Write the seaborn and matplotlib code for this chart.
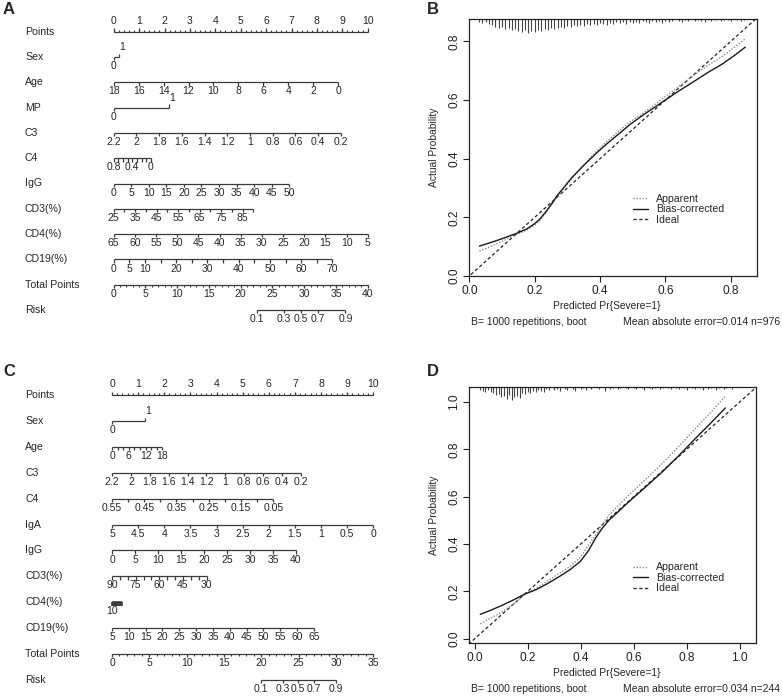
import numpy as np
import pandas as pd
import matplotlib
matplotlib.use("Agg")
import matplotlib.pyplot as plt
from matplotlib.lines import Line2D
from matplotlib.ticker import FormatStrFormatter
import seaborn as sns

sns.set_theme(style="white")
plt.rcParams['font.family'] = ['Liberation Sans', 'DejaVu Sans']

# ======================= DATA =======================
# ---- Nomogram A (points scale 0-10, total points 0-40) ----
A_points_vals = [0, 1, 2, 3, 4, 5, 6, 7, 8, 9, 10]
A_sex_vals = [0, 1];                                   A_sex_pts = [0.0, 0.21]
A_age_vals = [18, 16, 14, 12, 10, 8, 6, 4, 2, 0];      A_age_pts = [0.0, 8.84]
A_mp_vals = [0, 1];                                    A_mp_pts = [0.0, 2.18]
A_c3_vals = [2.2, 2, 1.8, 1.6, 1.4, 1.2, 1, 0.8, 0.6, 0.4, 0.2]; A_c3_pts = [0.0, 8.94]
A_c4_vals = [0.8, 0.7, 0.6, 0.5, 0.4, 0.3, 0.2, 0.1, 0];          A_c4_pts = [0.0, 1.46]
A_c4_labels = [0.8, 0.4, 0]
A_igg_vals = [0, 5, 10, 15, 20, 25, 30, 35, 40, 45, 50];          A_igg_pts = [0.0, 6.91]
A_cd3_vals = [25, 30, 35, 40, 45, 50, 55, 60, 65, 70, 75, 80, 85, 90]; A_cd3_pts = [0.0, 5.5]
A_cd3_labels = [25, 35, 45, 55, 65, 75, 85]
A_cd4_vals = [65, 60, 55, 50, 45, 40, 35, 30, 25, 20, 15, 10, 5];  A_cd4_pts = [0.0, 10.0]
A_cd19_vals = [0, 5, 10, 15, 20, 25, 30, 35, 40, 45, 50, 55, 60, 65, 70]; A_cd19_pts = [0.0, 8.61]
A_cd19_labels = [0, 5, 10, 20, 30, 40, 50, 60, 70]
A_total_vals = [0, 5, 10, 15, 20, 25, 30, 35, 40]
A_risk_vals = [0.1, 0.3, 0.5, 0.7, 0.9]
A_risk_total = [22.5, 26.8, 29.5, 32.2, 36.5]

# ---- Nomogram C (points scale 0-10, total points 0-35) ----
C_points_vals = [0, 1, 2, 3, 4, 5, 6, 7, 8, 9, 10]
C_sex_vals = [0, 1];                                   C_sex_pts = [0.0, 1.25]
C_age_vals = [0, 2, 4, 6, 8, 10, 12, 14, 16, 18];      C_age_pts = [0.0, 1.93]
C_age_labels = [0, 6, 12, 18]
C_c3_vals = [2.2, 2, 1.8, 1.6, 1.4, 1.2, 1, 0.8, 0.6, 0.4, 0.2]; C_c3_pts = [0.0, 7.23]
C_c4_vals = [0.55, 0.5, 0.45, 0.4, 0.35, 0.3, 0.25, 0.2, 0.15, 0.1, 0.05]; C_c4_pts = [0.0, 6.17]
C_c4_labels = [0.55, 0.45, 0.35, 0.25, 0.15, 0.05]
C_iga_vals = [5, 4.5, 4, 3.5, 3, 2.5, 2, 1.5, 1, 0.5, 0];     C_iga_pts = [0.0, 10.0]
C_igg_vals = [0, 5, 10, 15, 20, 25, 30, 35, 40];              C_igg_pts = [0.0, 7.04]
C_cd3_vals = [90, 85, 80, 75, 70, 65, 60, 55, 50, 45, 40, 35, 30]; C_cd3_pts = [0.0, 3.62]
C_cd3_labels = [90, 75, 60, 45, 30]
C_cd4_vals = [10, 15, 20, 25, 30, 35, 40, 45, 50, 55, 60, 65]; C_cd4_pts = [0.0, 0.37]
C_cd4_labels = [10]
C_cd19_vals = [5, 10, 15, 20, 25, 30, 35, 40, 45, 50, 55, 60, 65]; C_cd19_pts = [0.0, 7.73]
C_total_vals = [0, 5, 10, 15, 20, 25, 30, 35]
C_risk_vals = [0.1, 0.3, 0.5, 0.7, 0.9]
C_risk_total = [19.9, 22.9, 24.95, 27.0, 30.0]

# ---- Calibration B ----
B_pred = [0.031, 0.06, 0.10, 0.146, 0.175, 0.197, 0.215, 0.232, 0.25, 0.268, 0.29, 0.314, 0.35,
          0.385, 0.42, 0.457, 0.49, 0.528, 0.56, 0.589, 0.64, 0.691, 0.73, 0.773, 0.81, 0.844]
B_apparent = [0.085, 0.098, 0.118, 0.143, 0.156, 0.171, 0.188, 0.212, 0.240, 0.267, 0.300, 0.333, 0.378,
              0.421, 0.458, 0.493, 0.524, 0.552, 0.578, 0.603, 0.645, 0.688, 0.718, 0.748, 0.779, 0.808]
B_biascorr = [0.102, 0.112, 0.127, 0.146, 0.160, 0.176, 0.193, 0.216, 0.243, 0.273, 0.303, 0.336, 0.377,
              0.415, 0.450, 0.484, 0.515, 0.546, 0.570, 0.592, 0.630, 0.666, 0.694, 0.722, 0.751, 0.780]
B_spike_x = [0.03, 0.04, 0.05, 0.06, 0.07, 0.08, 0.09, 0.10, 0.11, 0.12, 0.13, 0.14, 0.15, 0.16,
             0.17, 0.18, 0.19, 0.20, 0.21, 0.22, 0.23, 0.24, 0.25, 0.26, 0.27, 0.28, 0.29, 0.30,
             0.31, 0.32, 0.33, 0.34, 0.35, 0.36, 0.37, 0.38, 0.39, 0.40, 0.41, 0.42, 0.43, 0.44,
             0.45, 0.46, 0.47, 0.48, 0.49, 0.50, 0.51, 0.52, 0.53, 0.54, 0.55, 0.56, 0.57, 0.58,
             0.59, 0.60, 0.61, 0.62, 0.63, 0.64, 0.65, 0.66, 0.67, 0.68, 0.69, 0.70, 0.71, 0.72,
             0.73, 0.74, 0.75, 0.76, 0.77, 0.78, 0.79, 0.80, 0.81, 0.82, 0.83, 0.84]
B_spike_n = [3, 4, 3, 5, 6, 8, 9, 8, 10, 9, 11, 10, 12, 13,
             11, 14, 12, 13, 11, 12, 10, 11, 9, 10, 9, 8, 9, 7,
             8, 6, 7, 6, 7, 5, 6, 5, 6, 4, 5, 6, 4, 5,
             3, 4, 3, 5, 3, 4, 3, 4, 2, 3, 4, 2, 3, 2,
             4, 2, 3, 2, 0, 2, 3, 1, 2, 0, 2, 1, 2, 3,
             1, 2, 1, 0, 2, 1, 1, 2, 0, 1, 2, 1]

# ---- Calibration D ----
D_pred = [0.021, 0.06, 0.103, 0.15, 0.191, 0.215, 0.235, 0.275, 0.317, 0.36, 0.399, 0.43, 0.455,
          0.48, 0.506, 0.54, 0.581, 0.64, 0.707, 0.77, 0.832, 0.89, 0.946]
D_apparent = [0.063, 0.087, 0.113, 0.150, 0.190, 0.203, 0.215, 0.244, 0.275, 0.305, 0.345, 0.395, 0.437,
              0.480, 0.521, 0.560, 0.606, 0.668, 0.739, 0.812, 0.887, 0.955, 1.025]
D_biascorr = [0.103, 0.120, 0.141, 0.166, 0.190, 0.200, 0.209, 0.233, 0.261, 0.292, 0.327, 0.373, 0.423,
              0.465, 0.500, 0.535, 0.578, 0.636, 0.704, 0.773, 0.845, 0.910, 0.975]
D_spike_x = [0.02, 0.03, 0.04, 0.05, 0.06, 0.07, 0.08, 0.09, 0.10, 0.11, 0.12, 0.13, 0.14, 0.15,
             0.16, 0.17, 0.18, 0.19, 0.20, 0.21, 0.22, 0.23, 0.24, 0.25, 0.26, 0.27, 0.28, 0.29,
             0.30, 0.31, 0.32, 0.33, 0.34, 0.35, 0.36, 0.37, 0.38, 0.39, 0.40, 0.41, 0.42, 0.43,
             0.44, 0.45, 0.46, 0.47, 0.48, 0.49, 0.50, 0.51, 0.52, 0.53, 0.54, 0.55, 0.56, 0.57,
             0.58, 0.59, 0.60, 0.61, 0.62, 0.63, 0.64, 0.65, 0.66, 0.67, 0.68, 0.69, 0.70, 0.71,
             0.72, 0.73, 0.74, 0.75, 0.76, 0.77, 0.78, 0.79, 0.80, 0.81, 0.82, 0.83, 0.84, 0.85,
             0.86, 0.87, 0.88, 0.89, 0.90, 0.91, 0.92, 0.93, 0.94, 0.95, 0.96, 0.97]
D_spike_n = [3, 4, 5, 3, 5, 6, 8, 7, 10, 9, 12, 8, 13, 10,
             9, 11, 6, 7, 5, 6, 4, 5, 3, 4, 5, 2, 3, 0,
             3, 2, 4, 0, 2, 3, 0, 2, 4, 0, 2, 1, 3, 0,
             2, 0, 1, 2, 0, 4, 0, 2, 1, 0, 2, 1, 0, 1,
             2, 0, 1, 2, 0, 1, 3, 0, 1, 2, 1, 0, 2, 1,
             0, 1, 2, 0, 1, 2, 0, 1, 3, 0, 1, 2, 0, 1,
             3, 0, 2, 1, 0, 3, 1, 0, 2, 1, 0, 2]

# ======================= FIGURE =======================
W, H = 782, 696
fig = plt.figure(figsize=(W / 100, H / 100), dpi=100)
LC = '#3a3a3a'
FS_NAME = 7.6
FS_TICK = 7.5


def fmt(v):
    return '%g' % v


def to_pts(v, vals, pts):
    v0, v1 = vals[0], vals[-1]
    return pts[0] + (np.asarray(v, float) - v0) / (v1 - v0) * (pts[1] - pts[0])


def nomo_axis(ax, r, vals, pts, ppr, ppp, labels=None, above=(), side='below',
              minor=None, tick_len=3.3, minor_len=2.0, off_below=9.2, off_above=10.7, lw=0.9):
    p = to_pts(vals, vals, pts)
    ax.plot([p.min(), p.max()], [r, r], color=LC, lw=lw, solid_capstyle='butt')
    for v, pp in zip(vals, p):
        up = (side == 'above') or (v in above)
        d = -1 if up else 1
        ax.plot([pp, pp], [r, r + d * tick_len / ppr], color=LC, lw=lw, solid_capstyle='butt')
    if minor is not None:
        mp = to_pts(minor, vals, pts)
        d = -1 if side == 'above' else 1
        ax.vlines(mp, r, r + d * minor_len / ppr, color=LC, lw=lw * 0.9)
    labels = vals if labels is None else labels
    for v in labels:
        pp = float(to_pts([v], vals, pts)[0])
        if side == 'above':
            ax.text(pp, r - off_above / ppr, fmt(v), ha='center', va='center', fontsize=FS_TICK)
        elif v in above:
            ax.text(pp + 3.0 / ppp, r - 9.5 / ppr, fmt(v), ha='center', va='center', fontsize=FS_TICK)
        else:
            ax.text(pp, r + off_below / ppr, fmt(v), ha='center', va='center', fontsize=FS_TICK)


def make_nomo_axes(top_px, bot_px, x0px, ppp, row0px, ppr):
    ax = fig.add_axes([0, 1 - bot_px / H, 391 / W, (bot_px - top_px) / H])
    ax.set_xlim(-x0px / ppp, (391 - x0px) / ppp)
    ax.set_ylim((bot_px - row0px) / ppr, (top_px - row0px) / ppr)
    ax.axis('off')
    return ax


# ---------------- Panel A ----------------
A_ppp, A_ppr = 25.4, 25.3
axA = make_nomo_axes(0, 348, 113.7, A_ppp, 31.7, A_ppr)
A_names = ['Points', 'Sex', 'Age', 'MP', 'C3', 'C4', 'IgG', 'CD3(%)', 'CD4(%)', 'CD19(%)',
           'Total Points', 'Risk']
for i, nm in enumerate(A_names):
    axA.text((25 - 113.7) / A_ppp, i, nm, ha='left', va='center', fontsize=FS_NAME)
kw = dict(ppr=A_ppr, ppp=A_ppp)
nomo_axis(axA, 0, A_points_vals, [0, 10], side='above', minor=np.arange(0, 10.01, 0.2), **kw)
nomo_axis(axA, 1, A_sex_vals, A_sex_pts, above=(1,), **kw)
nomo_axis(axA, 2, A_age_vals, A_age_pts, **kw)
nomo_axis(axA, 3, A_mp_vals, A_mp_pts, above=(1,), **kw)
nomo_axis(axA, 4, A_c3_vals, A_c3_pts, **kw)
nomo_axis(axA, 5, A_c4_vals, A_c4_pts, labels=A_c4_labels, **kw)
nomo_axis(axA, 6, A_igg_vals, A_igg_pts, **kw)
nomo_axis(axA, 7, A_cd3_vals, A_cd3_pts, labels=A_cd3_labels, **kw)
nomo_axis(axA, 8, A_cd4_vals, A_cd4_pts, **kw)
nomo_axis(axA, 9, A_cd19_vals, A_cd19_pts, labels=A_cd19_labels, **kw)
nomo_axis(axA, 10, A_total_vals, [0, 10], minor=np.arange(0, 40.01, 1.0), **kw)
A_risk_pts = [t * 10 / 40 for t in A_risk_total]
nomo_axis(axA, 11, A_risk_pts, [A_risk_pts[0], A_risk_pts[-1]], labels=[], **kw)
for v, t in zip(A_risk_vals, A_risk_pts):
    axA.text(t, 11 + 9.2 / A_ppr, fmt(v), ha='center', va='center', fontsize=FS_TICK)

# ---------------- Panel C ----------------
C_ppp, C_ppr = 26.13, 25.9
axC = make_nomo_axes(348, 696, 112.0, C_ppp, 395.0, C_ppr)
C_names = ['Points', 'Sex', 'Age', 'C3', 'C4', 'IgA', 'IgG', 'CD3(%)', 'CD4(%)', 'CD19(%)',
           'Total Points', 'Risk']
for i, nm in enumerate(C_names):
    axC.text((25 - 112.0) / C_ppp, i, nm, ha='left', va='center', fontsize=FS_NAME)
kw = dict(ppr=C_ppr, ppp=C_ppp)
nomo_axis(axC, 0, C_points_vals, [0, 10], side='above', minor=np.arange(0, 10.01, 0.2), **kw)
nomo_axis(axC, 1, C_sex_vals, C_sex_pts, above=(1,), **kw)
nomo_axis(axC, 2, C_age_vals, C_age_pts, labels=C_age_labels, **kw)
nomo_axis(axC, 3, C_c3_vals, C_c3_pts, **kw)
nomo_axis(axC, 4, C_c4_vals, C_c4_pts, labels=C_c4_labels, **kw)
nomo_axis(axC, 5, C_iga_vals, C_iga_pts, **kw)
nomo_axis(axC, 6, C_igg_vals, C_igg_pts, **kw)
nomo_axis(axC, 7, C_cd3_vals, C_cd3_pts, labels=C_cd3_labels, **kw)
nomo_axis(axC, 8, C_cd4_vals, C_cd4_pts, labels=C_cd4_labels, lw=1.2, **kw)
nomo_axis(axC, 9, C_cd19_vals, C_cd19_pts, **kw)
nomo_axis(axC, 10, C_total_vals, [0, 10], minor=np.arange(0, 35.01, 1.0), **kw)
C_risk_pts = [t * 10 / 35 for t in C_risk_total]
nomo_axis(axC, 11, C_risk_pts, [C_risk_pts[0], C_risk_pts[-1]], labels=[], **kw)
for v, t in zip(C_risk_vals, C_risk_pts):
    axC.text(t, 11 + 9.2 / C_ppr, fmt(v), ha='center', va='center', fontsize=FS_TICK)


# ---------------- Calibration panels ----------------
def calib_panel(box, xlim, ylim, ticks, pred, app, bias, sx, sn, pxu, mae, n, sub_y):
    l, t, r, b = box
    ax = fig.add_axes([l / W, 1 - b / H, (r - l) / W, (b - t) / H])
    ax.set_xlim(*xlim)
    ax.set_ylim(*ylim)
    lo = min(xlim[0], ylim[0]) - 0.1
    hi = max(xlim[1], ylim[1]) + 0.1
    ax.plot([lo, hi], [lo, hi], color='#222222', lw=0.9, linestyle=(0, (2.6, 2.0)))
    df = pd.DataFrame({'pred': pred, 'app': app, 'bias': bias})
    sns.lineplot(data=df, x='pred', y='app', ax=ax, color='#8c8c8c', lw=1.0,
                 linestyle=(0, (1.0, 1.2)), legend=False)
    sns.lineplot(data=df, x='pred', y='bias', ax=ax, color='#1a1a1a', lw=1.0, legend=False)
    top = ylim[1]
    ax.vlines(sx, top - np.asarray(sn, float) / pxu, top, color='#444444', lw=0.8)
    for s in ax.spines.values():
        s.set_visible(True)
        s.set_color('#222222')
        s.set_linewidth(0.9)
    ax.set_xticks(ticks)
    ax.set_yticks(ticks)
    ax.xaxis.set_major_formatter(FormatStrFormatter('%.1f'))
    ax.yaxis.set_major_formatter(FormatStrFormatter('%.1f'))
    ax.tick_params(axis='both', which='major', direction='out', length=4.0, width=0.8,
                   labelsize=8.6, pad=2.5, bottom=True, left=True, colors='#222222')
    for lab in ax.get_yticklabels():
        lab.set_rotation(90)
        lab.set_va('center')
    ax.set_xlabel('')
    ax.set_ylabel('')
    ax.grid(False)
    ax.text((606.5 - l) / (r - l), -30 / (b - t), 'Predicted Pr{Severe=1}', transform=ax.transAxes,
            ha='center', va='center', fontsize=7.4)
    ax.text((434 - l) / (r - l), 0.5, 'Actual Probability', transform=ax.transAxes,
            ha='center', va='center', rotation=90, fontsize=7.4)
    fig.text(471 / W, 1 - sub_y / H, 'B= 1000 repetitions, boot', ha='left', va='center', fontsize=7.5)
    fig.text(780 / W, 1 - sub_y / H, 'Mean absolute error=%s n=%d' % (mae, n),
             ha='right', va='center', fontsize=7.5)
    handles = [Line2D([], [], color='#8c8c8c', lw=1.0, linestyle=(0, (1.0, 1.2))),
               Line2D([], [], color='#1a1a1a', lw=1.0),
               Line2D([], [], color='#222222', lw=0.9, linestyle=(0, (2.6, 2.0)))]
    ax.legend(handles, ['Apparent', 'Bias-corrected', 'Ideal'], loc='center left',
              bbox_to_anchor=((633 - l) / (r - l), (b - (t + (209.5 - 19))) / (b - t)),
              frameon=False, fontsize=7.6, handlelength=1.45, handletextpad=0.7,
              labelspacing=0.05, borderpad=0, borderaxespad=0)
    return ax


axB = calib_panel((469.3, 19, 756.7, 276), (0, 0.879), (0, 0.876), [0, 0.2, 0.4, 0.6, 0.8],
                  B_pred, B_apparent, B_biascorr, B_spike_x, B_spike_n, 293.0, '0.014', 976, 322)
axD = calib_panel((469.3, 387.3, 755.5, 643), (-0.0204, 1.0596), (-0.018, 1.062),
                  [0, 0.2, 0.4, 0.6, 0.8, 1.0],
                  D_pred, D_apparent, D_biascorr, D_spike_x, D_spike_n, 236.7, '0.034', 244, 689)

# ---------------- Panel letters ----------------
for letter, xp, yp in [('A', 3, 2), ('B', 427, 2), ('C', 3, 364), ('D', 427, 364)]:
    fig.text(xp / W, 1 - yp / H, letter, ha='left', va='top', fontsize=12, fontweight='bold')

fig.savefig('out.png', dpi=100)
